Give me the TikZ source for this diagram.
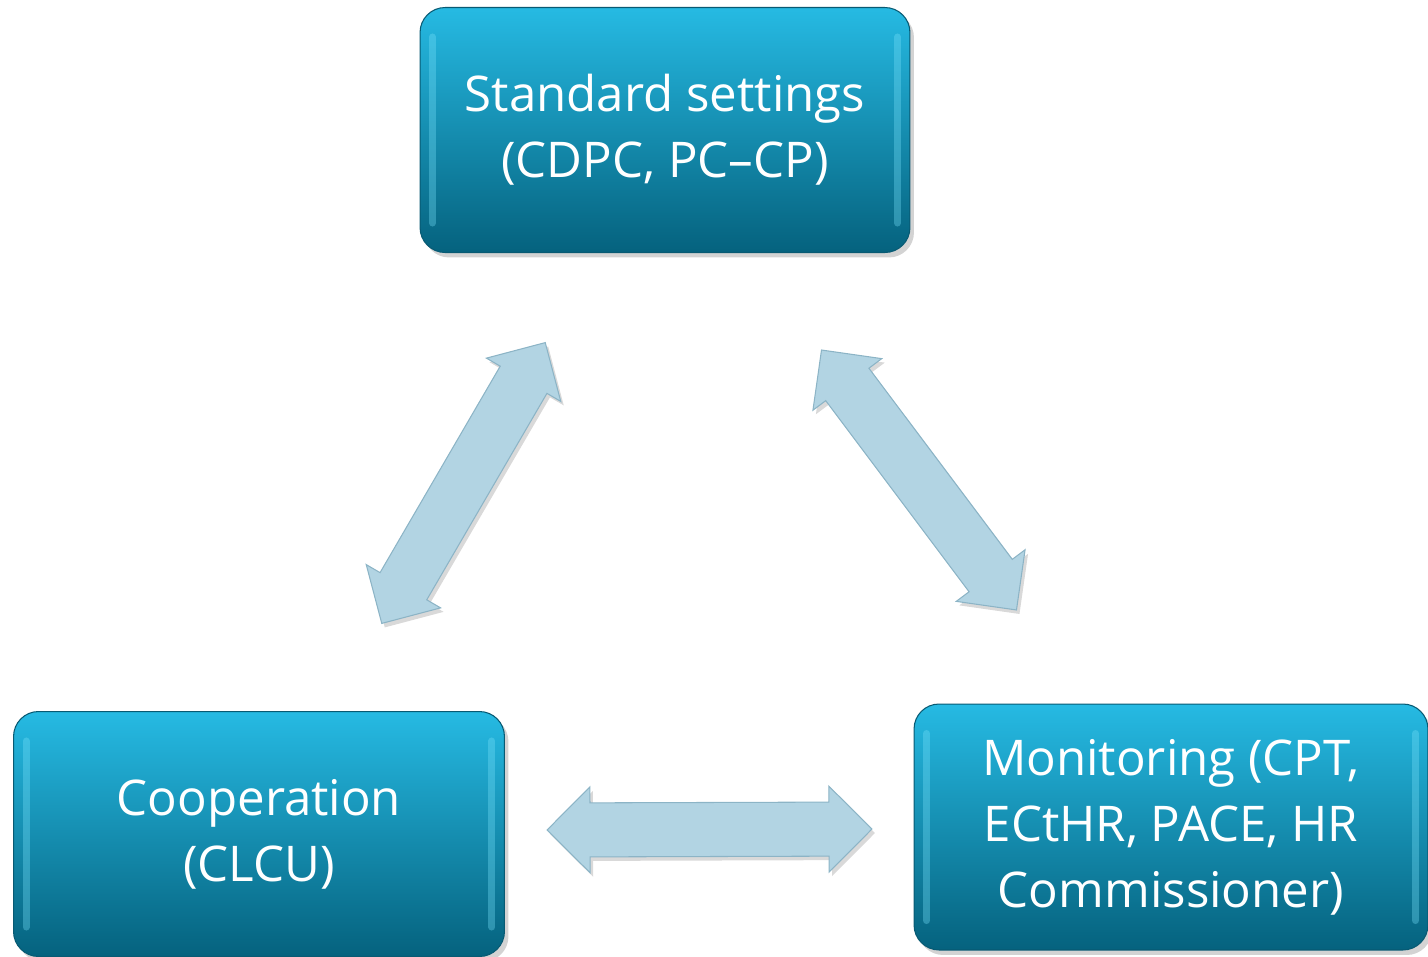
\documentclass[tikz,border=0pt]{standalone}
\usepackage{fontspec}
\setmainfont{Open Sans}
\usetikzlibrary{shapes.arrows,shadows,calc}

\definecolor{boxtop}{RGB}{38,186,227}
\definecolor{boxbottom}{RGB}{5,98,126}
\definecolor{boxedge}{RGB}{8,90,115}
\definecolor{arrowfill}{RGB}{178,212,227}
\definecolor{arrowedge}{RGB}{140,180,198}
\definecolor{glint}{RGB}{120,225,250}

\tikzset{
  body/.style={rectangle, rounded corners=0.5cm, top color=boxtop, bottom color=boxbottom,
    draw=boxedge, line width=0.6pt, text=white, align=center,
    font=\fontsize{28}{37.5}\selectfont,
    drop shadow={shadow xshift=0.08cm, shadow yshift=-0.1cm, opacity=0.35}},
  fatarrow/.style={double arrow, double arrow head extend=0.32cm, inner xsep=0pt,
    inner ysep=0.53cm, minimum height=6.5cm, fill=arrowfill, draw=arrowedge, line width=0.6pt,
    drop shadow={shadow xshift=0.06cm, shadow yshift=-0.08cm, opacity=0.3}}
}

\begin{document}
\begin{tikzpicture}[x=0.02cm, y=-0.02cm]
  \useasboundingbox (0,0) rectangle (1428,957);

  \node[body, minimum width=9.8cm, minimum height=4.9cm] (std) at (665,130) {Standard settings\\(CDPC, PC--CP)};
  \node[body, minimum width=9.82cm, minimum height=4.9cm] (coop) at (259,834) {Cooperation\\(CLCU)};
  \node[body, minimum width=10.28cm, minimum height=4.92cm] (mon) at (1171,827) {Monitoring (CPT,\\ECtHR, PACE, HR\\Commissioner)};

  \foreach \b in {std,coop,mon} {
    \draw[glint, line width=4pt, opacity=0.35, line cap=round] ($(\b.north west)+(13,30)$) -- ($(\b.south west)+(13,-30)$);
    \draw[glint, line width=4pt, opacity=0.35, line cap=round] ($(\b.north east)+(-13,30)$) -- ($(\b.south east)+(-13,-30)$);
  }

  \coordinate (a1) at (382,623);
  \coordinate (a2) at (545,343);
  \coordinate (b1) at (820,348);
  \coordinate (b2) at (1018,612);
  \coordinate (c1) at (547,830);
  \coordinate (c2) at (872,829);

  \path (a1) -- (a2) node[fatarrow, midway, sloped] (stdcoop) {};
  \path (b1) -- (b2) node[fatarrow, midway, sloped] (stdmon) {};
  \path (c1) -- (c2) node[fatarrow, midway, sloped] (coopmon) {};
\end{tikzpicture}
\end{document}
